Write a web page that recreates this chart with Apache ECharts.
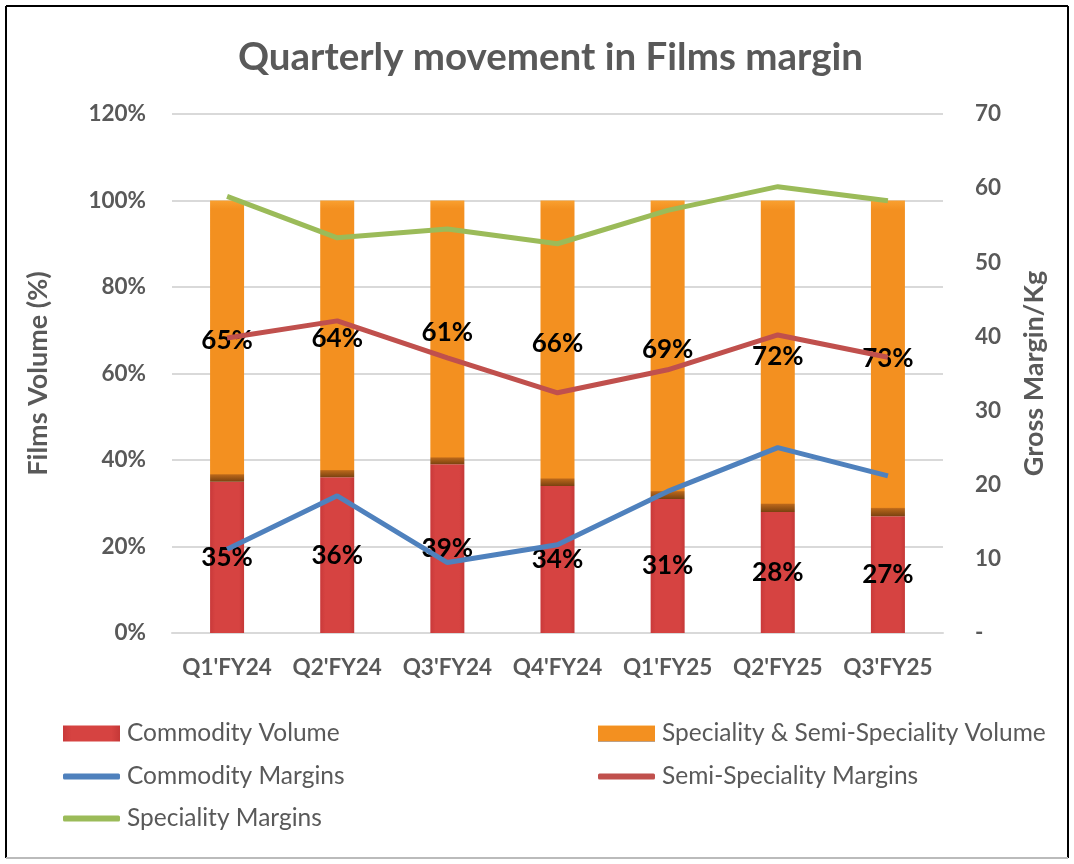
<!DOCTYPE html>
<html>
<head>
<meta charset="utf-8">
<script src="https://cdn.jsdelivr.net/npm/echarts@6/dist/echarts.min.js"></script>
<style>html,body{margin:0;padding:0;background:#fff;}#c{width:1074px;height:864px;}</style>
</head>
<body>
<div id="c"></div>
<script>
const categories = ["Q1'FY24","Q2'FY24","Q3'FY24","Q4'FY24","Q1'FY25","Q2'FY25","Q3'FY25"];
const commodityVolume = [35, 36, 39, 34, 31, 28, 27];
const specialityVolume = [65, 64, 61, 66, 69, 72, 73];
const commodityMargins = [11.3, 18.5, 9.5, 11.9, 19.1, 25.0, 21.2];
const semiSpecialityMargins = [39.8, 42.1, 37.1, 32.4, 35.5, 40.2, 37.2];
const specialityMargins = [58.9, 53.3, 54.5, 52.5, 57.0, 60.2, 58.3];

const FONT = 'Lato';
const GRAY = '#595959';
const chart = echarts.init(document.getElementById('c'), null, {renderer: 'canvas'});

const redFill = new echarts.graphic.LinearGradient(0, 0, 1, 0, [
  {offset: 0, color: '#C9393A'}, {offset: 0.15, color: '#D64341'},
  {offset: 0.85, color: '#D64341'}, {offset: 1, color: '#C53837'}
]);
const orangeFill = new echarts.graphic.LinearGradient(0, 0, 0, 1, [
  {offset: 0, color: '#F9A030'}, {offset: 0.03, color: '#F39020'},
  {offset: 0.972, color: '#F39020'}, {offset: 0.976, color: '#B8661A'},
  {offset: 1, color: '#7A4210'}
]);

const labelStyle = {show: true, position: 'inside', color: '#000', fontFamily: FONT, fontWeight: 'bold', fontSize: 26,
  formatter: p => p.value + '%'};

function legendItem(name, left, top, isBar, icoH) {
  return {
    left: left, top: top, padding: 0, itemWidth: 57, itemHeight: icoH,
    icon: isBar ? 'rect' : 'roundRect',
    textStyle: {fontFamily: FONT, fontSize: 24.5, color: GRAY, padding: [0, 0, 0, 2]},
    data: [name]
  };
}

chart.setOption({
  animation: false,
  backgroundColor: '#fff',
  title: {
    text: 'Quarterly movement in Films margin', left: 233, top: 33,
    textStyle: {fontFamily: FONT, fontWeight: 'bold', fontSize: 38.5, color: GRAY}
  },
  graphic: [
    {type: 'line', shape: {x1: 6, y1: 6, x2: 1068, y2: 6}, style: {stroke: '#000', lineWidth: 2}},
    {type: 'line', shape: {x1: 6, y1: 6, x2: 6, y2: 858}, style: {stroke: '#000', lineWidth: 2}},
    {type: 'line', shape: {x1: 1068, y1: 6, x2: 1068, y2: 858}, style: {stroke: '#000', lineWidth: 2}},
    {type: 'line', shape: {x1: 6, y1: 858, x2: 1068, y2: 858}, style: {stroke: '#BBBBBB', lineWidth: 2}}
  ],
  grid: {left: 172, right: 131, top: 114, bottom: 231, containLabel: false},
  legend: [
    legendItem('Commodity Volume', 63, 721, true, 16),
    legendItem('Commodity Margins', 63, 764, false, 6),
    legendItem('Speciality Margins', 63, 806, false, 6),
    legendItem('Speciality & Semi-Speciality Volume', 598, 721, true, 16),
    legendItem('Semi-Speciality Margins', 598, 764, false, 6)
  ],
  xAxis: {
    type: 'category', data: categories,
    axisLine: {lineStyle: {color: '#D9D9D9', width: 2}},
    axisTick: {show: false},
    axisLabel: {interval: 0, fontFamily: FONT, fontWeight: 'bold', fontSize: 22.5, color: GRAY, margin: 23}
  },
  yAxis: [
    {
      type: 'value', min: 0, max: 120, interval: 20,
      name: 'Films Volume (%)', nameLocation: 'middle', nameGap: 120, nameRotate: 90,
      nameTextStyle: {fontFamily: FONT, fontWeight: 'bold', fontSize: 27, color: GRAY},
      axisLine: {show: false}, axisTick: {show: false},
      axisLabel: {fontFamily: FONT, fontWeight: 'bold', fontSize: 22.5, color: GRAY, margin: 26, formatter: '{value}%'},
      splitLine: {lineStyle: {color: '#D9D9D9', width: 2}}
    },
    {
      type: 'value', min: 0, max: 70, interval: 10,
      name: 'Gross Margin/Kg', nameLocation: 'middle', nameGap: 78, nameRotate: 90,
      nameTextStyle: {fontFamily: FONT, fontWeight: 'bold', fontSize: 27, color: GRAY},
      axisLine: {show: false}, axisTick: {show: false}, splitLine: {show: false},
      axisLabel: {fontFamily: FONT, fontWeight: 'bold', fontSize: 22.5, color: GRAY, margin: 32, align: 'left',
        formatter: v => v === 0 ? '-' : String(v)}
    }
  ],
  series: [
    {
      name: 'Commodity Volume', type: 'bar', stack: 'vol', barWidth: 34, data: commodityVolume,
      itemStyle: {color: redFill}, label: labelStyle, z: 2
    },
    {
      name: 'Speciality & Semi-Speciality Volume', type: 'bar', stack: 'vol', barWidth: 34, data: specialityVolume,
      itemStyle: {color: orangeFill}, label: labelStyle, z: 2
    },
    {
      name: 'Commodity Margins', type: 'line', yAxisIndex: 1, data: commodityMargins, showSymbol: false, symbol: 'none',
      lineStyle: {color: '#4F81BD', width: 5}, itemStyle: {color: '#4F81BD'}, z: 3
    },
    {
      name: 'Semi-Speciality Margins', type: 'line', yAxisIndex: 1, data: semiSpecialityMargins, showSymbol: false, symbol: 'none',
      lineStyle: {color: '#C0504D', width: 5}, itemStyle: {color: '#C0504D'}, z: 3
    },
    {
      name: 'Speciality Margins', type: 'line', yAxisIndex: 1, data: specialityMargins, showSymbol: false, symbol: 'none',
      lineStyle: {color: '#9BBB59', width: 5}, itemStyle: {color: '#9BBB59'}, z: 3
    }
  ]
});
</script>
</body>
</html>
